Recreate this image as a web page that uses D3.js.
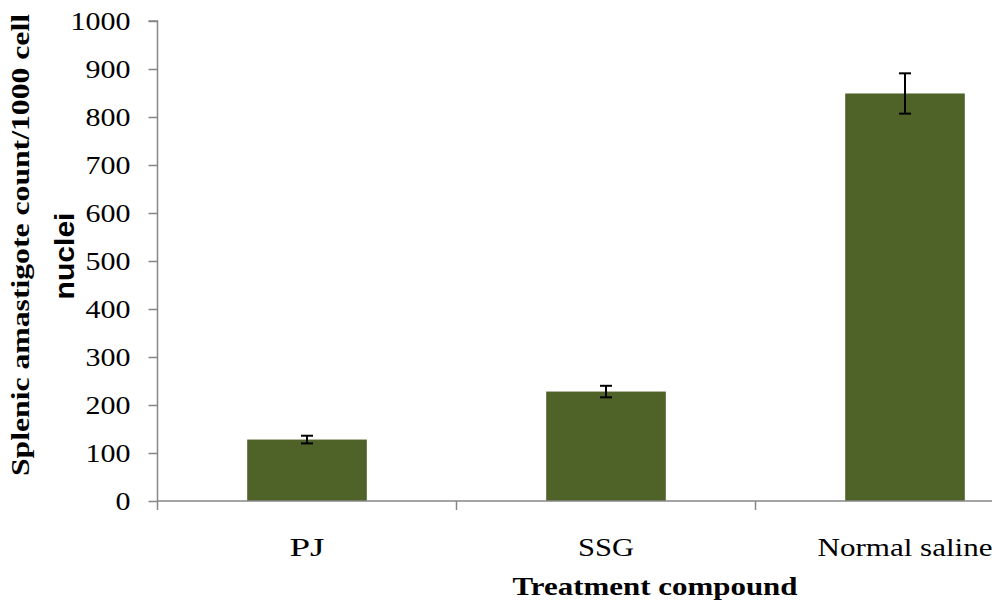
<!DOCTYPE html>
<html>
<head>
<meta charset="utf-8">
<script src="https://cdn.jsdelivr.net/npm/d3@7"></script>
<style>
  html, body { margin: 0; padding: 0; background: #fff; }
  svg { display: block; }
  .serif { font-family: "Liberation Serif", "Times New Roman", Times, serif; }
  .sans { font-family: "Liberation Sans", Arial, Helvetica, sans-serif; }
</style>
</head>
<body>
<svg id="chart" width="992" height="606"></svg>
<script>
// ---- data ----
const categories = ["PJ", "SSG", "Normal saline"];
const values = [128, 228, 849];
const errors = [8, 12, 42];
const yTicks = [0, 100, 200, 300, 400, 500, 600, 700, 800, 900, 1000];
const xTitle = "Treatment compound";
const yTitleLines = ["Splenic amastigote count/1000 cell", "nuclei"];

const svg = d3.select("#chart");
const axisColor = "#868686";
const barColor = "#4F6228";

const x = d3.scaleBand().domain(categories).range([157.5, 1054.5]).paddingInner(0.6).paddingOuter(0.3);
const y = d3.scaleLinear().domain([0, 1000]).range([501, 21]);

function fitWidth(sel, widthOf) {
  sel.each(function () {
    const t = d3.select(this).text();
    d3.select(this).attr("textLength", widthOf(t)).attr("lengthAdjust", "spacingAndGlyphs");
  });
}

// bars
svg.append("g").selectAll("rect").data(categories).join("rect")
  .attr("x", d => x(d))
  .attr("width", x.bandwidth())
  .attr("y", (d, i) => y(values[i]))
  .attr("height", (d, i) => y(0) - y(values[i]))
  .attr("fill", barColor);

// error bars
const eg = svg.append("g").attr("stroke", "#000").attr("stroke-width", 2);
categories.forEach((c, i) => {
  const cx = x(c) + x.bandwidth() / 2;
  const top = y(values[i] + errors[i]), bot = y(values[i] - errors[i]);
  eg.append("line").attr("x1", cx).attr("x2", cx).attr("y1", top).attr("y2", bot);
  eg.append("line").attr("x1", cx - 6).attr("x2", cx + 6).attr("y1", top).attr("y2", top);
  eg.append("line").attr("x1", cx - 6).attr("x2", cx + 6).attr("y1", bot).attr("y2", bot);
});

// y axis
const yAxis = d3.axisLeft(y).tickValues(yTicks).tickSize(9).tickPadding(18).tickFormat(d3.format("d"));
const gy = svg.append("g").attr("transform", "translate(157.5,0)").call(yAxis);
gy.attr("font-family", null).attr("font-size", null);
gy.select(".domain").attr("stroke", axisColor).attr("stroke-width", 1.5).attr("d", "M-9," + y(1000) + "H0V" + y(0));
gy.selectAll(".tick line").attr("stroke", axisColor).attr("stroke-width", 1.5);
gy.selectAll(".tick text").attr("class", "serif")
  .style("font-size", "25.5px").attr("fill", "#000").attr("x", -27).attr("dy", "0.34em");
fitWidth(gy.selectAll(".tick text"), t => t.length * 15);

// x axis
const xAxis = d3.axisBottom(x).tickSize(0).tickPadding(0);
const gx = svg.append("g").attr("transform", "translate(0,501)").call(xAxis);
gx.attr("font-family", null).attr("font-size", null);
gx.select(".domain").remove();
gx.append("line").attr("x1", 157.5).attr("x2", 992).attr("y1", 0).attr("y2", 0)
  .attr("stroke", axisColor).attr("stroke-width", 1.5);
const bounds = [0, 1, 2, 3].map(i => x.step() * i + 157.5);
gx.selectAll(".bound").data(bounds).join("line").attr("class", "bound")
  .attr("x1", d => d).attr("x2", d => d).attr("y1", 0).attr("y2", 9)
  .attr("stroke", axisColor).attr("stroke-width", 1.5);
const xLabelWidths = { "PJ": 35, "SSG": 56, "Normal saline": 175 };
gx.selectAll(".tick text").attr("class", "serif")
  .style("font-size", "25.5px").attr("fill", "#000")
  .attr("y", 55).attr("dy", 0);
fitWidth(gx.selectAll(".tick text"), t => xLabelWidths[t]);

// x title
svg.append("text").attr("class", "serif").attr("x", 655).attr("y", 595).attr("text-anchor", "middle")
  .style("font-weight", "bold").style("font-size", "25.5px").attr("fill", "#000")
  .attr("textLength", 285).attr("lengthAdjust", "spacingAndGlyphs")
  .text(xTitle);

// y title
svg.append("text").attr("class", "serif").attr("transform", "translate(29,245) rotate(-90)").attr("text-anchor", "middle")
  .style("font-weight", "bold").style("font-size", "25px").attr("fill", "#000")
  .attr("textLength", 462).attr("lengthAdjust", "spacingAndGlyphs")
  .text(yTitleLines[0]);
svg.append("text").attr("class", "sans").attr("transform", "translate(74,256) rotate(-90)").attr("text-anchor", "middle")
  .style("font-weight", "bold").style("font-size", "27px").attr("fill", "#000")
  .attr("textLength", 87).attr("lengthAdjust", "spacingAndGlyphs")
  .text(yTitleLines[1]);
</script>
</body>
</html>
